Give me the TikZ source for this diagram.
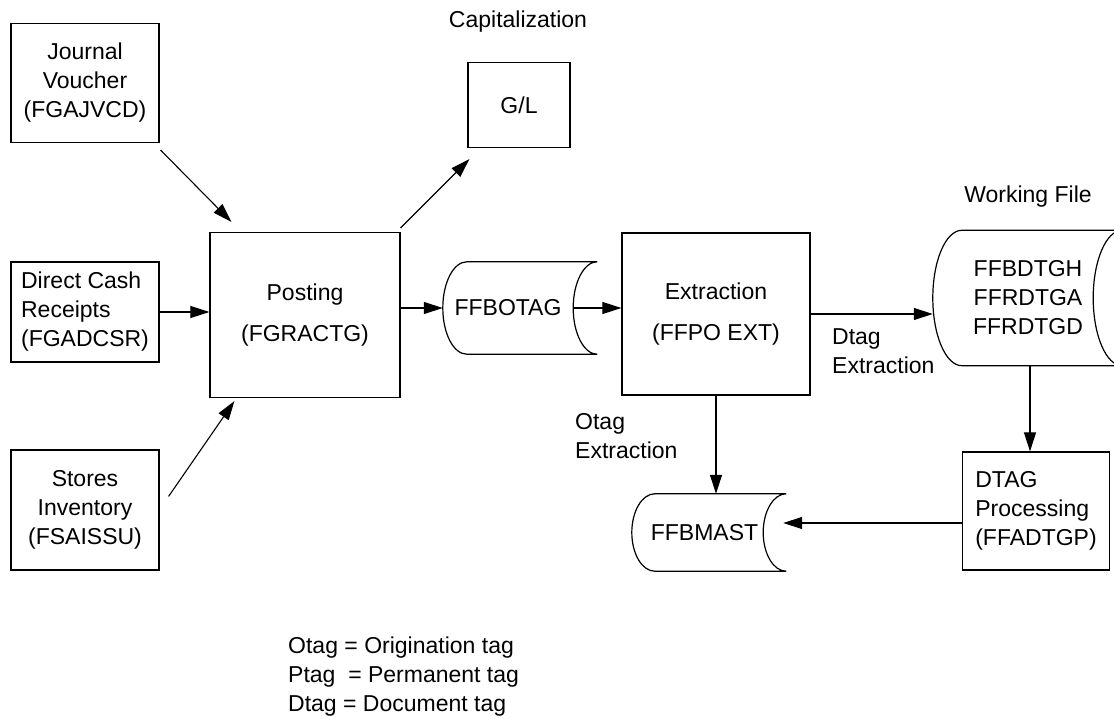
\documentclass[tikz,border=0pt]{standalone}
\usepackage{fontspec}
\setmainfont{Liberation Sans}
\usetikzlibrary{arrows.meta,calc}

\tikzset{
  box/.style={draw, rectangle, line width=1.2pt, align=center},
  store/.style={rectangle, align=center, inner sep=0pt},
  flow/.style={line width=1.1pt, -{Triangle[length=19pt,width=12pt]}},
  tag/.style={align=left, inner sep=0pt, anchor=north west}
}

% outline of a stored data node: name, bulge
\newcommand{\storeline}[2]{%
  \draw[line width=1.2pt] let \p1=(#1.north east), \p2=(#1.south east) in
    ([xshift=#2]#1.north west) -- ([xshift=#2]#1.north east)
    arc[start angle=90, end angle=270, x radius=#2, y radius={(\y1-\y2)/2}]
    -- ([xshift=#2]#1.south west)
    arc[start angle=270, end angle=90, x radius=#2, y radius={(\y1-\y2)/2}];
}

\begin{document}
\begin{tikzpicture}[x=1pt, y=-1pt, font=\fontsize{23}{29}\selectfont]
  \useasboundingbox (0,0) rectangle (1114,719);
  % Input programs
  \node[box, minimum width=148pt, minimum height=119pt] (jv) at (85,83) {Journal\\Voucher\\(FGAJVCD)};
  \node[box, align=left, minimum width=148pt, minimum height=100pt] (dcr) at (85,312) {Direct Cash\\Receipts\\(FGADCSR)};
  \node[box, minimum width=148pt, minimum height=120pt] (si) at (85,510) {Stores\\Inventory\\(FSAISSU)};
  % Processing
  \node[box, minimum width=190pt, minimum height=165pt] (posting) at (305,315) {Posting\\[12pt](FGRACTG)};
  \node[box, minimum width=102pt, minimum height=85pt] (gl) at (519,105) {G/L};
  \node (caplabel) at (518,22) {Capitalization};
  \node[store, minimum width=130pt, minimum height=92pt] (ffbotag) at (508,308) {FFBOTAG};
  \storeline{ffbotag}{24pt}
  \node[box, minimum width=188pt, minimum height=162pt] (extraction) at (716,314) {Extraction\\[12pt](FFPO EXT)};
  \node[store, minimum width=160pt, minimum height=135pt] (work) at (1013,298) {\hspace*{30pt}FFBDTGH\\\hspace*{30pt}FFRDTGA\\\hspace*{30pt}FFRDTGD};
  \storeline{work}{29pt}
  \node (worklabel) at (1028,197) {Working File};
  \node[store, minimum width=131pt, minimum height=77pt] (ffbmast) at (697.5,532.5) {\hspace*{14pt}FFBMAST};
  \storeline{ffbmast}{23pt}
  \node[box, align=left, minimum width=147pt, minimum height=118pt] (dtag) at (1036,511) {DTAG\\Processing\\(FFADTGP)};
  \node[tag] (dtaglabel) at (832,328) {Dtag\\Extraction};
  \node[tag] (otaglabel) at (575,413) {Otag\\Extraction};
  % Legend
  \node[tag] (legend) at (288,637) {Otag = Origination tag\\Ptag \ = Permanent tag\\Dtag = Document tag};
  % Draw the flows
  \coordinate (dtagin) at ([yshift=-12pt]dtag.west);
  \coordinate (mastin) at ([xshift=20pt]ffbmast.east);
  \draw[flow] ([xshift=1pt,yshift=-7pt]jv.south east) -- ([xshift=22pt,yshift=10pt]posting.north west);
  \draw[flow] (dcr.east) -- (dcr.east -| posting.west);
  \draw[flow] ([xshift=9pt,yshift=-47pt]si.north east) -- ([xshift=25pt,yshift=-3pt]posting.south west);
  \draw[flow] ([yshift=4pt]posting.north east) -- ([xshift=2pt,yshift=-11pt]gl.south west);
  \draw[flow] (posting.east |- ffbotag.west) -- (ffbotag.west);
  \draw[flow] (ffbotag.east) -- (ffbotag.east -| extraction.west);
  \draw[flow] (extraction.east) -- (extraction.east -| work.west);
  \draw[flow] (extraction.south) -- (extraction.south |- ffbmast.north);
  \draw[flow] ([xshift=17pt]work.south) -- ([xshift=17pt]work.south |- dtag.north);
  \draw[flow] (dtagin) -- (mastin |- dtagin);
\end{tikzpicture}
\end{document}
